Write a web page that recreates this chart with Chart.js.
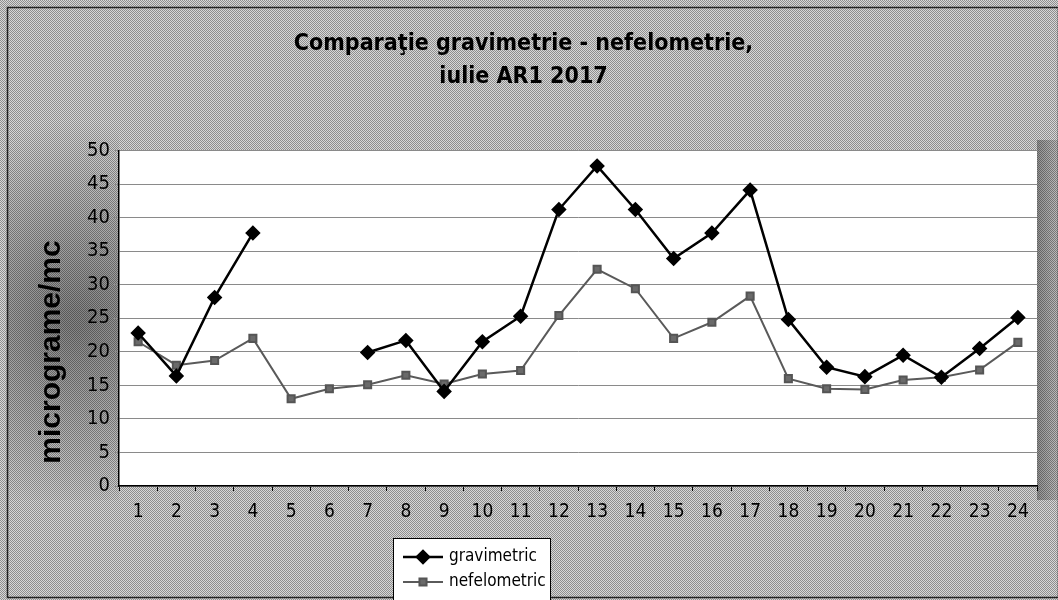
<!DOCTYPE html>
<html>
<head>
<meta charset="utf-8">
<script src="https://cdn.jsdelivr.net/npm/chart.js@4.4.1/dist/chart.umd.min.js"></script>
<style>
  html, body { margin: 0; padding: 0; background: #fff; }
  #wrap { width: 1058px; height: 600px; position: relative; }
</style>
</head>
<body>
<div id="wrap"><canvas id="chart" width="1058" height="600"></canvas></div>
<script>
// days of July
const days = ['1','2','3','4','5','6','7','8','9','10','11','12','13','14','15','16','17','18','19','20','21','22','23','24'];
// gravimetric (no data on 5, 6)
const gravimetric = [22.8, 16.4, 28.1, 37.7, null, null, 19.9, 21.7, 14.1, 21.5, 25.3, 41.2, 47.7, 41.2, 33.9, 37.7, 44.1, 24.8, 17.7, 16.3, 19.5, 16.2, 20.5, 25.1];
const nefelometric = [21.5, 18.0, 18.7, 22.0, 13.0, 14.5, 15.1, 16.5, 15.2, 16.7, 17.2, 25.4, 32.3, 29.4, 22.0, 24.4, 28.3, 16.0, 14.5, 14.4, 15.8, 16.2, 17.3, 21.4];
const yTicks = [0, 5, 10, 15, 20, 25, 30, 35, 40, 45, 50];
const seriesNames = ['gravimetric', 'nefelometric'];
const yTitle = 'micrograme/mc';

const narrow = "'Liberation Sans Narrow', 'Arial Narrow', 'DejaVu Sans Condensed', sans-serif";

// dithered grey like the scanned original
function makeDither(a, b) {
    const c = document.createElement('canvas');
    c.width = 2; c.height = 2;
    const g = c.getContext('2d');
    g.fillStyle = a; g.fillRect(0, 0, 2, 2);
    g.fillStyle = b; g.fillRect(0, 0, 1, 1); g.fillRect(1, 1, 1, 1);
    return c;
}

const backgroundPlugin = {
    id: 'scanBackground',
    beforeDraw(chart) {
        const ctx = chart.ctx;
        const W = chart.width, H = chart.height;
        const area = chart.chartArea;
        ctx.save();
        ctx.fillStyle = ctx.createPattern(makeDither('#d8d8d8', '#8e8e8e'), 'repeat');
        ctx.fillRect(0, 0, W, H);

        // darker shading behind the y axis title
        const rg = ctx.createRadialGradient(75, 320, 10, 75, 320, 200);
        rg.addColorStop(0, 'rgba(0,0,0,0.38)');
        rg.addColorStop(1, 'rgba(0,0,0,0)');
        ctx.fillStyle = rg;
        ctx.fillRect(8, 110, area.left - 8, 390);

        // dark strip at the right edge
        const lg = ctx.createLinearGradient(area.right, 0, W, 0);
        lg.addColorStop(0, 'rgba(0,0,0,0.32)');
        lg.addColorStop(1, 'rgba(0,0,0,0.12)');
        ctx.fillStyle = lg;
        ctx.fillRect(area.right, 140, W - area.right, 360);

        // white plot area
        ctx.fillStyle = '#fff';
        ctx.fillRect(area.left, area.top, area.right - area.left, area.bottom - area.top);

        // outer frame
        ctx.strokeStyle = '#222';
        ctx.lineWidth = 1.5;
        ctx.strokeRect(7.5, 7.5, W - 7, H - 10);
        ctx.restore();
    }
};

// y axis title, placed like the original (lower than the plot centre)
const yTitlePlugin = {
    id: 'yTitle',
    afterDraw(chart) {
        const ctx = chart.ctx;
        ctx.save();
        ctx.translate(52, 352);
        ctx.rotate(-Math.PI / 2);
        ctx.fillStyle = '#000';
        ctx.font = "bold 30px 'Liberation Sans', Arial, sans-serif";
        ctx.textAlign = 'center';
        ctx.textBaseline = 'middle';
        ctx.fillText(yTitle, 0, 0);
        ctx.restore();
    }
};

// legend box drawn like the original (line + marker)
const boxLegendPlugin = {
    id: 'boxLegend',
    afterDraw(chart) {
        const ctx = chart.ctx;
        const x0 = 393, y0 = 538, w = 157, h = 70;
        ctx.save();
        ctx.fillStyle = '#fff';
        ctx.fillRect(x0, y0, w, h);
        ctx.strokeStyle = '#000';
        ctx.lineWidth = 1;
        ctx.strokeRect(x0 + 0.5, y0 + 0.5, w, h);
        chart.data.datasets.forEach((ds, i) => {
            const y = y0 + 19 + i * 25;
            ctx.strokeStyle = ds.borderColor;
            ctx.lineWidth = ds.borderWidth;
            ctx.beginPath();
            ctx.moveTo(x0 + 10, y);
            ctx.lineTo(x0 + 50, y);
            ctx.stroke();
            ctx.fillStyle = ds.pointBackgroundColor;
            ctx.strokeStyle = ds.pointBorderColor;
            Chart.helpers.drawPoint(ctx, { pointStyle: ds.pointStyle, radius: ds.pointRadius, borderWidth: 1 }, x0 + 30, y);
            ctx.fillStyle = '#000';
            ctx.font = "17px " + narrow;
            ctx.textBaseline = 'middle';
            ctx.fillText(ds.label, x0 + 56, y);
        });
        ctx.restore();
    }
};

new Chart(document.getElementById('chart').getContext('2d'), {
    type: 'line',
    data: {
        labels: days,
        datasets: [
            {
                label: seriesNames[0],
                data: gravimetric,
                borderColor: '#000',
                borderWidth: 2.5,
                pointStyle: 'rectRot',
                pointRadius: 6,
                pointBackgroundColor: '#000',
                pointBorderColor: '#000',
                spanGaps: false,
                tension: 0
            },
            {
                label: seriesNames[1],
                data: nefelometric,
                borderColor: '#5a5a5a',
                borderWidth: 2,
                pointStyle: 'rect',
                pointRadius: 5,
                pointBackgroundColor: '#6a6a6a',
                pointBorderColor: '#555',
                tension: 0
            }
        ]
    },
    options: {
        responsive: false,
        animation: false,
        layout: { padding: { left: 10, right: 21, top: 0, bottom: 74 } },
        plugins: {
            legend: { display: false },
            tooltip: { enabled: false },
            title: {
                display: true,
                text: ['Comparaţie gravimetrie - nefelometrie,', 'iulie AR1 2017'],
                color: '#000',
                font: { family: narrow, size: 23, weight: 'bold', lineHeight: 1.45 },
                padding: { top: 27, bottom: 56.8 }
            }
        },
        scales: {
            x: {
                offset: true,
                grid: { display: true, drawOnChartArea: false, offset: true, color: '#000', tickLength: 5 },
                border: { color: '#000', width: 1.5 },
                ticks: { color: '#000', font: { family: narrow, size: 19 }, padding: 10, maxRotation: 0, autoSkip: false },
                afterFit(scale) { scale.height = 40; }
            },
            y: {
                min: 0,
                max: 50,
                afterBuildTicks(scale) { scale.ticks = yTicks.map(v => ({ value: v })); },
                grid: { color: '#8a8a8a', lineWidth: 1, tickLength: 5 },
                border: { color: '#000', width: 1.5 },
                ticks: { color: '#000', font: { family: narrow, size: 20 }, padding: 4 },
                afterFit(scale) { scale.width = 109; }
            }
        }
    },
    plugins: [backgroundPlugin, yTitlePlugin, boxLegendPlugin]
});
</script>
</body>
</html>
